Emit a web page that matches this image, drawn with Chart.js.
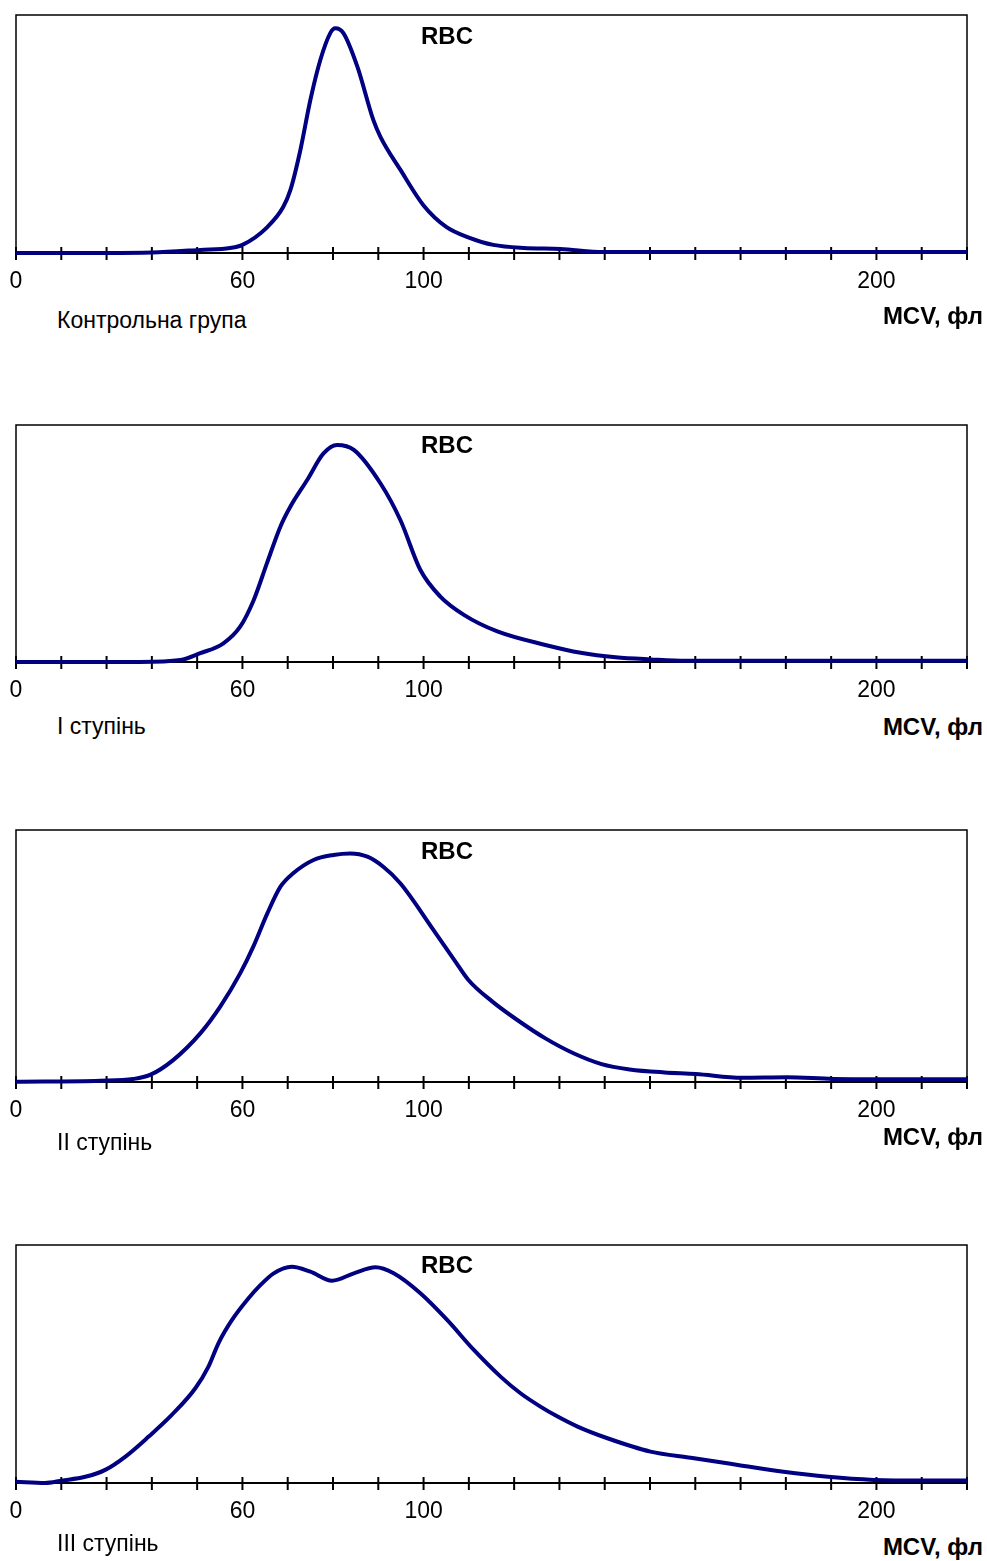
<!DOCTYPE html>
<html>
<head>
<meta charset="utf-8">
<title>RBC</title>
<script src="https://cdn.jsdelivr.net/npm/chart.js@4.4.1/dist/chart.umd.min.js"></script>
<style>
  body { margin: 0; background: #fff; width: 987px; height: 1561px; position: relative; overflow: hidden;
         font-family: "Liberation Sans", Arial, sans-serif; color: #000; }
  canvas { position: absolute; left: 0; }
  .txt { position: absolute; font-size: 23px; line-height: 23px; white-space: nowrap; }
  .rbc { font-weight: bold; font-size: 24px; line-height: 24px; width: 100px; text-align: center; }
  .mcv { font-weight: bold; font-size: 24px; line-height: 24px; right: 4px; }
</style>
</head>
<body>
<script>
// x positions are in tick steps (22 tick marks, 0..21); y is % of panel height
const tickLabels = ['0', '', '', '', '', '60', '', '', '', '100', '', '', '', '', '', '', '', '', '', '200', '', ''];
const panelNames = ['Контрольна група', 'I ступінь', 'II ступінь', 'III ступінь'];

const ctrlX = [0, 2, 3, 4.07, 4.73, 5.0, 5.55, 5.9, 6.06, 6.28, 6.5, 6.72, 6.94, 7.05, 7.23, 7.54, 7.89, 8.05, 8.49, 9.0, 9.5, 10.0, 10.54, 11.21, 12.02, 12.98, 14, 21];
const ctrlY = [0, 0, 0.2, 1.3, 2.1, 3.4, 10.9, 19.3, 26.5, 43.3, 64.3, 81.1, 92.4, 94.4, 92.4, 78.2, 55.9, 48.7, 34.9, 20, 11, 6.5, 3.4, 2.1, 1.7, 0.4, 0.4, 0.4];

const st1X = [0, 1.86, 2.74, 3.63, 4.07, 4.58, 4.95, 5.25, 5.54, 5.84, 6.06, 6.43, 6.79, 7.09, 7.46, 8.05, 8.49, 8.93, 9.37, 9.89, 10.63, 11.69, 12.47, 13.24, 14.01, 14.79, 21];
const st1Y = [0, 0, 0, 0.8, 3.7, 7.9, 14.9, 26.2, 41.6, 57.2, 65.6, 76.8, 88, 91.6, 89.5, 75.3, 59.8, 38.8, 27.6, 19.9, 12.9, 7.2, 3.9, 2, 1.1, 0.5, 0.5];

const st2X = [0, 1.86, 2.59, 2.96, 3.47, 4.07, 4.51, 4.95, 5.24, 5.55, 5.84, 6.12, 6.57, 7.01, 7.38, 7.76, 8.11, 8.49, 9.22, 9.68, 9.99, 10.52, 11.07, 11.69, 12.31, 12.93, 13.55, 14.32, 15.01, 16.03, 17.02, 18.04, 19.03, 21];
const st2Y = [0.1, 0.5, 1.2, 2.8, 8.7, 19.3, 29.9, 43.1, 53.7, 66.9, 77.5, 82.8, 88.1, 90.1, 90.7, 89.4, 85.4, 78.8, 60.3, 48.4, 40.5, 31.9, 24.6, 17.3, 11.4, 7.1, 5, 3.8, 3.2, 1.7, 1.9, 1.2, 1.1, 1.1];

const st3X = [0, 0.64, 1.01, 1.53, 1.97, 2.41, 2.93, 3.44, 3.96, 4.25, 4.47, 4.77, 5.13, 5.39, 5.69, 6.09, 6.5, 6.98, 7.46, 7.94, 8.34, 8.93, 9.52, 10.11, 10.7, 11.14, 11.58, 11.96, 12.4, 13.06, 14.01, 14.9, 15.94, 16.95, 17.93, 18.94, 20.05, 21];
const st3Y = [0.5, 0, 1, 2.6, 5.5, 11, 19.5, 28.6, 39.8, 48.9, 58.7, 68.5, 77.5, 83, 88.1, 90.9, 88.8, 85, 88.1, 90.6, 88.1, 79.7, 68.5, 55.9, 44.7, 37.7, 32.1, 27.9, 23.7, 18.8, 13.2, 10.6, 7.6, 4.7, 2.6, 1.3, 1, 1];

const seriesX = [ctrlX, st1X, st2X, st3X];
const seriesY = [ctrlY, st1Y, st2Y, st3Y];

// layout of the four panels (page pixels)
const boxTop = [15, 425, 830, 1245];
const boxH = [238, 237, 252, 238];
const nameY = [320, 726, 1142, 1543];
const mcvY = [316, 727, 1137, 1547];
const rbcY = [36, 445, 851, 1265];

const PAD_TOP = 15, AXIS_H = 50;

// frame and cross ticks, drawn under the curve
const framePlugin = {
  id: 'frame',
  beforeDatasetsDraw(chart) {
    const { ctx, chartArea: a, scales: { x } } = chart;
    ctx.save();
    ctx.strokeStyle = '#000';
    ctx.lineWidth = 1.5;
    ctx.beginPath();
    ctx.moveTo(a.left, a.bottom);
    ctx.lineTo(a.left, a.top);
    ctx.lineTo(a.right, a.top);
    ctx.lineTo(a.right, a.bottom);
    ctx.stroke();
    ctx.lineWidth = 2;
    ctx.beginPath();
    ctx.moveTo(a.left, a.bottom);
    ctx.lineTo(a.right, a.bottom);
    ctx.stroke();
    x.ticks.forEach(t => {
      const px = x.getPixelForValue(t.value);
      ctx.beginPath();
      ctx.moveTo(px, a.bottom - 6);
      ctx.lineTo(px, a.bottom + 7);
      ctx.stroke();
    });
    ctx.restore();
  }
};

function addText(cls, text, left, centerY, size) {
  const d = document.createElement('div');
  d.className = 'txt ' + cls;
  d.textContent = text;
  if (left !== null) d.style.left = left + 'px';
  d.style.top = Math.round(centerY - size * 0.49) + 'px';
  document.body.appendChild(d);
}

for (let i = 0; i < 4; i++) {
  const canvas = document.createElement('canvas');
  canvas.width = 987;
  canvas.height = PAD_TOP + boxH[i] + AXIS_H;
  canvas.style.top = (boxTop[i] - PAD_TOP) + 'px';
  document.body.appendChild(canvas);

  const points = seriesX[i].map((x, k) => ({ x: x, y: seriesY[i][k] }));

  new Chart(canvas, {
    type: 'line',
    data: {
      datasets: [{
        data: points,
        borderColor: '#000080',
        borderWidth: 4,
        pointRadius: 0,
        cubicInterpolationMode: 'monotone',
        fill: false,
        clip: false
      }]
    },
    options: {
      responsive: false,
      animation: false,
      events: [],
      layout: { padding: { left: 16, right: 20, top: PAD_TOP, bottom: 0 } },
      plugins: { legend: { display: false }, tooltip: { enabled: false } },
      scales: {
        x: {
          type: 'linear',
          min: 0,
          max: 21,
          grid: { display: false, drawTicks: false },
          border: { display: false },
          ticks: {
            stepSize: 1,
            autoSkip: false,
            maxRotation: 0,
            padding: 15,
            color: '#000',
            font: { family: '"Liberation Sans", Arial, sans-serif', size: 23 },
            callback: v => tickLabels[v] ?? ''
          },
          afterFit: s => {
            s.height = AXIS_H;
            s.paddingLeft = 0;
            s.paddingRight = 0;
          }
        },
        y: { min: 0, max: 100, display: false }
      }
    },
    plugins: [framePlugin]
  });

  addText('rbc', 'RBC', 397, rbcY[i], 24);
  addText('', panelNames[i], 57, nameY[i], 23);
  addText('mcv', 'MCV, фл', null, mcvY[i], 24);
}
</script>
</body>
</html>
